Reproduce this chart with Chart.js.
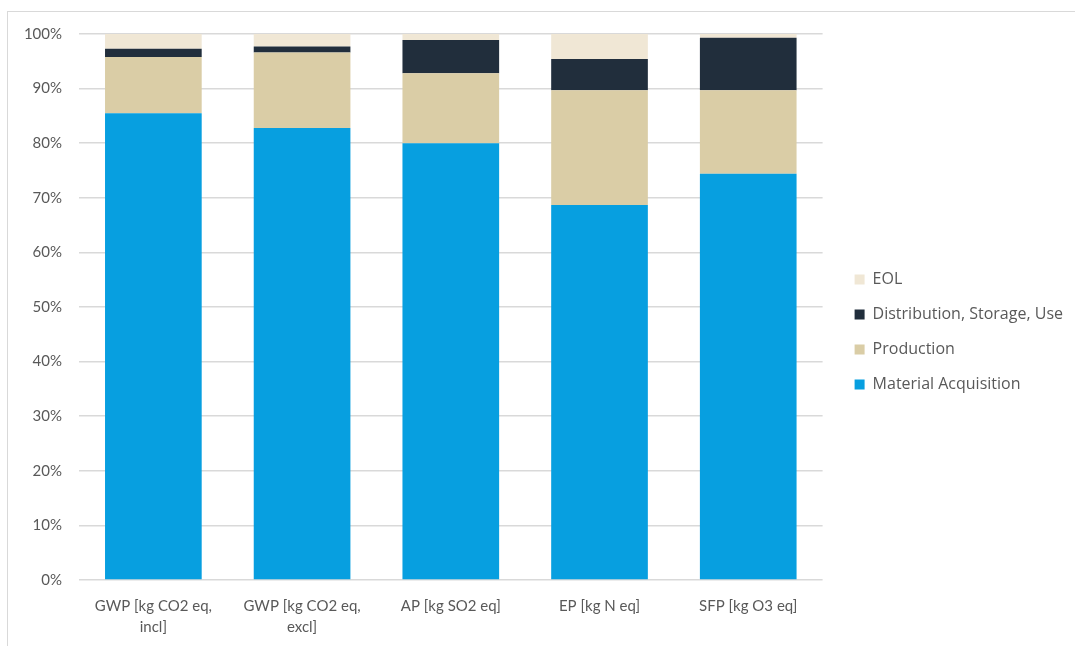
<!DOCTYPE html>
<html>
<head>
<meta charset="utf-8">
<script src="https://cdn.jsdelivr.net/npm/chart.js@4/dist/chart.umd.min.js"></script>
<style>
    html, body { margin: 0; padding: 0; background: #fff; overflow: hidden; }
    #frame { position: absolute; left: 7px; top: 11px; width: 1200px; height: 800px;
             border-left: 1px solid #d9d9d9; border-top: 1px solid #d9d9d9; }
    #wrap { position: absolute; left: 0; top: 0; width: 1075px; height: 646px; }
</style>
</head>
<body>
<div id="frame"></div>
<div id="wrap"><canvas id="impactChart"></canvas></div>
<script>
// impact categories (x axis)
const categories = [
    ['GWP [kg CO2 eq,', 'incl]'],
    ['GWP [kg CO2 eq,', 'excl]'],
    'AP [kg SO2 eq]',
    'EP [kg N eq]',
    'SFP [kg O3 eq]'
];

// share of each life cycle stage, in %
const materialAcq  = [85.5, 82.8, 80.0, 68.7, 74.4];
const production   = [10.3, 13.8, 12.8, 21.0, 15.3];
const distribution = [1.5, 1.1, 6.1, 5.7, 9.6];
const eol          = [2.7, 2.3, 1.1, 4.6, 0.7];

const yTicks = [0, 10, 20, 30, 40, 50, 60, 70, 80, 90, 100];

const textColor = '#595959';
const font = { family: 'Lato, "Open Sans", sans-serif', size: 15 };

// push the legend a bit further away from the plot and up a little
const legendShift = {
    id: 'legendShift',
    beforeDraw(chart) {
        const lg = chart.legend;
        if (!lg._shifted) {
            lg.left += 13; lg.right += 13;
            lg.top -= 8; lg.bottom -= 8;
            lg._shifted = true;
        }
    },
    afterLayout(chart) { chart.legend._shifted = false; }
};

const ctx = document.getElementById('impactChart');

new Chart(ctx, {
    type: 'bar',
    data: {
        labels: categories,
        datasets: [{
            label: 'Material Acquisition',
            data: materialAcq,
            backgroundColor: '#079FE0'
        }, {
            label: 'Production',
            data: production,
            backgroundColor: '#DACDA6'
        }, {
            label: 'Distribution, Storage, Use',
            data: distribution,
            backgroundColor: '#212E3C'
        }, {
            label: 'EOL',
            data: eol,
            backgroundColor: '#F0E7D5'
        }]
    },
    options: {
        responsive: true,
        maintainAspectRatio: false,
        animation: false,
        layout: {
            padding: { top: 34, right: 15, bottom: 0, left: 0 }
        },
        datasets: {
            bar: { categoryPercentage: 0.65, barPercentage: 1.0 }
        },
        scales: {
            x: {
                stacked: true,
                afterFit: (axis) => { axis.height = 66; },
                grid: { display: false },
                border: { display: false },
                ticks: {
                    color: textColor,
                    font: { family: font.family, size: 15, lineHeight: 1.45 },
                    maxRotation: 0,
                    padding: 7
                }
            },
            y: {
                stacked: true,
                min: 0,
                max: 100,
                afterFit: (axis) => { axis.width = 79; },
                afterBuildTicks: (axis) => { axis.ticks = yTicks.map(v => ({ value: v })); },
                grid: { color: '#d9d9d9', lineWidth: 1.5, drawTicks: false },
                border: { display: false },
                ticks: {
                    color: textColor,
                    font: font,
                    padding: 17,
                    callback: (v) => v + '%'
                }
            }
        },
        plugins: {
            tooltip: { enabled: false },
            legend: {
                position: 'right',
                reverse: true,
                labels: {
                    color: textColor,
                    font: { family: '"Open Sans", sans-serif', size: 16 },
                    boxWidth: 10,
                    boxHeight: 10,
                    padding: 19
                }
            }
        }
    },
    plugins: [legendShift]
});
</script>
</body>
</html>
